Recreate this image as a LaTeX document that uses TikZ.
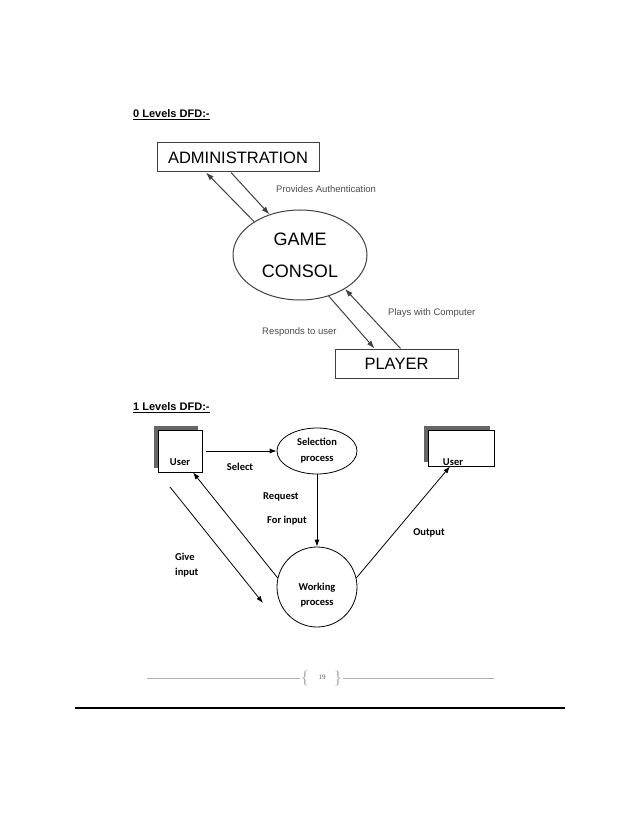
\documentclass[tikz,border=0pt]{standalone}
\usepackage{fontspec}
\setmainfont{Liberation Sans}
\newfontfamily\calfont{Carlito}
\newfontfamily\pgfont{Liberation Serif}
\usepackage{tikz}
\usetikzlibrary{arrows.meta,positioning,shapes.geometric,shadows}
\definecolor{linegray}{rgb}{0.25,0.25,0.25}
\definecolor{labelgray}{rgb}{0.30,0.30,0.30}
\definecolor{shadowgray}{rgb}{0.40,0.40,0.40}
\definecolor{footgray}{rgb}{0.68,0.68,0.68}

\begin{document}
\begin{tikzpicture}[x=1pt,y=-1pt,
   hd/.style={font=\fontsize{11}{13}\selectfont\bfseries,anchor=west,inner sep=0pt},
   ent/.style={draw=linegray,line width=1pt,minimum width=#1,minimum height=29pt,
               font=\fontsize{16.5}{18}\selectfont,inner sep=0pt},
   lbl/.style={font=\fontsize{9.5}{11}\selectfont,text=labelgray,inner sep=0pt,anchor=west},
   arr/.style={-{Latex[length=8pt,width=5.5pt]},draw=linegray,line width=1pt},
   store/.style={draw,fill=white,line width=0.8pt,inner sep=0pt,
                 general shadow={fill=shadowgray,shadow xshift=-4pt,shadow yshift=4pt}},
   dl/.style={font=\calfont\bfseries\fontsize{10.5}{15}\selectfont,inner sep=0pt},
   barr/.style={-{Latex[length=7pt,width=5pt]},line width=0.8pt}]
  \useasboundingbox (0,0) rectangle (638,826);
  \node[hd] (h0) at (133,115) {\underline{0 Levels DFD:-}};
  \node[ent=162pt] (admin) at (238,157.5) {ADMINISTRATION};
  \node[draw=linegray,line width=1pt,ellipse,minimum width=134pt,minimum height=90pt,
        inner sep=0pt,align=center,font=\fontsize{18}{32}\selectfont] (game) at (300,255)
       {GAME\\CONSOL};
  \node[ent=123pt] (player) at (396.5,363.5) {PLAYER};
  \draw[arr] (game.144) -- ([xshift=-32pt]admin.south);
  \draw[arr] ([xshift=-7pt]admin.south) -- (game.127);
  \draw[arr] (game.-55) -- ([xshift=-22pt]player.north);
  \draw[arr] ([xshift=4pt]player.north) -- (game.-37);
  \node[lbl] (auth) at (276,189) {Provides Authentication};
  \node[lbl] (plays) at (388,313) {Plays with Computer};
  \node[lbl] (resp) at (262,332) {Responds to user};

  \node[hd] (h1) at (133,408) {\underline{1 Levels DFD:-}};
  \node[store,minimum width=44pt,minimum height=42pt] (userL) at (180,451) {};
  \node[dl,above=7pt of userL.south] (userLt) {User};
  \node[store,minimum width=66pt,minimum height=36pt] (userR) at (461,448) {};
  \node[dl,above=1pt of userR.south,xshift=-8pt] (userRt) {User};
  \node[draw,ellipse,line width=0.8pt,minimum width=80pt,minimum height=46pt,inner sep=0pt,
        align=center,font=\calfont\bfseries\fontsize{10.5}{16}\selectfont] (sel) at (317,451)
       {Selection\\process};
  \node[draw,circle,line width=0.8pt,minimum size=80pt] (work) at (317,587) {};
  \node[dl,align=center] (workt) at (317,595) {Working\\process};
  \coordinate (gi1) at (170,487);
  \coordinate (gi2) at (263,603);
  \draw[barr] ([xshift=4pt]userL.east) -- (sel.west);
  \draw[barr] (sel) -- (work);
  \draw[barr] (work.167) -- ([xshift=13pt]userL.south);
  \draw[barr] (gi1) -- (gi2);
  \draw[barr] (work.13) -- ([xshift=-11pt]userR.south);
  \node[dl] (selt) at (240,467) {Select};
  \node[dl,anchor=west] (req) at (263,497) {Request};
  \node[dl,anchor=west] (forin) at (267,521) {For input};
  \node[dl,align=left,anchor=west] (give) at (175,565) {Give\\input};
  \node[dl] (outp) at (429,533) {Output};

  \node[font=\pgfont\fontsize{18}{18}\selectfont,text=footgray,inner sep=0pt] (lbr) at (305,678) {\{};
  \node[font=\pgfont\fontsize{18}{18}\selectfont,text=footgray,inner sep=0pt] (rbr) at (338,678) {\}};
  \node[font=\pgfont\fontsize{7}{8}\selectfont,text=black!65,inner sep=0pt] (pg) at (322,677) {19};
  \coordinate (fl) at (147,678);
  \coordinate (fr) at (494,678);
  \draw[footgray,line width=0.8pt] (fl) -- (lbr.west);
  \draw[footgray,line width=0.8pt] (rbr.east) -- (fr);
  \coordinate (bl) at (75,708);
  \coordinate (br) at (565,708);
  \draw[line width=1.6pt] (bl) -- (br);
\end{tikzpicture}
\end{document}
